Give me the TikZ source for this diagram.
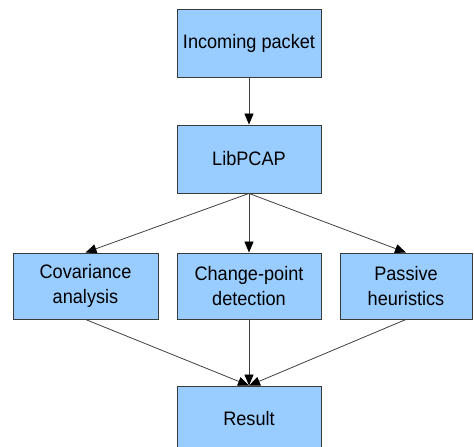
\documentclass[tikz,border=0pt]{standalone}
\usepackage{fontspec}
\setmainfont{Liberation Sans}[FakeStretch=0.93]
\usetikzlibrary{arrows.meta}
\definecolor{boxfill}{HTML}{99CCFF}
\definecolor{boxline}{HTML}{3A3A3A}
\definecolor{arrline}{HTML}{404040}
\begin{document}
\begin{tikzpicture}[x=1pt,y=-1pt,
  box/.style={draw=boxline,fill=boxfill,line width=0.9pt,minimum height=68pt,inner sep=0pt,align=center,font=\fontsize{19.5}{25}\selectfont},
  arr/.style={draw=arrline,line width=0.8pt,-{Triangle[length=11pt,width=9pt,color=black,fill=black]}}]
\useasboundingbox (0,0) rectangle (474,447);
\begin{scope}
\clip (0,0) rectangle (474,447);
\node[box,minimum width=144pt] (inc) at (249,43) {Incoming packet};
\node[box,minimum width=144pt] (lib) at (249,159) {LibPCAP};
\node[box,minimum width=145pt,minimum height=66pt] (cov) at (85.5,286) {Covariance\\analysis};
\node[box,minimum width=144pt,minimum height=66pt] (chg) at (249,286) {Change-point\\detection};
\node[box,minimum width=132pt,minimum height=66pt] (pas) at (406,286) {Passive\\heuristics};
\node[box,minimum width=144pt,minimum height=66pt] (res) at (249,419) {Result};
\draw[arr] (inc.south) -- (lib.north);
\draw[arr] (lib.south) -- (cov.north);
\draw[arr] (lib.south) -- (chg.north);
\draw[arr] (lib.south) -- (pas.north);
\draw[arr] (cov.south) -- (res.north);
\draw[arr] (chg.south) -- (res.north);
\draw[arr] (pas.south) -- (res.north);
\end{scope}
\end{tikzpicture}
\end{document}
